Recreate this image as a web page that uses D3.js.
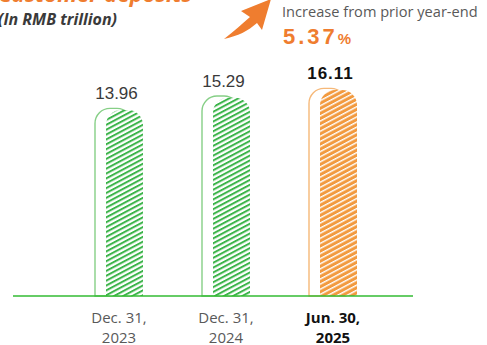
<!DOCTYPE html>
<html><head><meta charset="utf-8">
<script src="https://cdn.jsdelivr.net/npm/d3@7"></script>
<style>
html,body{margin:0;padding:0;background:#fff;overflow:hidden;}
svg{display:block;}
</style></head>
<body>
<svg id="chart" width="487" height="345"></svg>
<script>
const categories = ["Dec. 31, 2023", "Dec. 31, 2024", "Jun. 30, 2025"];
const labelLine1 = ["Dec. 31,", "Dec. 31,", "Jun. 30,"];
const labelLine2 = ["2023", "2024", "2025"];
const values = [13.96, 15.29, 16.11];
const valueLabels = ["13.96", "15.29", "16.11"];
const highlight = [false, false, true];
const title = "Customer deposits";
const unit = "(In RMB trillion)";
const increaseText = "Increase from prior year-end";
const increaseValue = "5.37";

const svg = d3.select("#chart");
const baseY = 296;

const x = d3.scalePoint().domain(categories).range([119, 333]);
const y = d3.scaleLinear().domain([-6.04, 16.11]).range([baseY, 90]);

const GREEN = "#3cb44a", GREEN_LIGHT = "#86cf86";
const ORANGE = "#f29a3f", ORANGE_LIGHT = "#f6b878";
const ORANGE_TXT = "#ef7d2f";

const defs = svg.append("defs");
const pg = defs.append("pattern").attr("id", "hatchGreen").attr("patternUnits", "userSpaceOnUse")
  .attr("width", 4.3).attr("height", 10).attr("patternTransform", "rotate(62)");
pg.append("rect").attr("width", 4.3).attr("height", 10).attr("fill", "#fff");
pg.append("rect").attr("x", 0).attr("width", 2.0).attr("height", 10).attr("fill", GREEN);
const po = defs.append("pattern").attr("id", "hatchOrange").attr("patternUnits", "userSpaceOnUse")
  .attr("width", 4.5).attr("height", 10).attr("patternTransform", "rotate(62)");
po.append("rect").attr("width", 4.5).attr("height", 10).attr("fill", ORANGE);
po.append("rect").attr("x", 0).attr("width", 1.4).attr("height", 10).attr("fill", "#fff");

function topRounded(x0, y0, w, h, r) {
  return `M${x0},${y0 + h} V${y0 + r} A${r},${r} 0 0 1 ${x0 + r},${y0} H${x0 + w - r} A${r},${r} 0 0 1 ${x0 + w},${y0 + r} V${y0 + h} Z`;
}
const bw = 37, off = 5.5, rad = 15;

const g = svg.append("g");
categories.forEach((c, i) => {
  const cx = x(c);
  const top = y(values[i]);
  g.append("path")
    .attr("d", topRounded(cx - off - bw / 2, top - 1.6, bw, baseY - top + 1.6, rad))
    .attr("fill", "none")
    .attr("stroke", highlight[i] ? ORANGE_LIGHT : GREEN_LIGHT)
    .attr("stroke-width", 1.4);
  g.append("path")
    .attr("d", topRounded(cx + off - bw / 2, top, bw, baseY - top, rad))
    .attr("fill", highlight[i] ? "url(#hatchOrange)" : "url(#hatchGreen)");
  g.append("text")
    .attr("x", cx - 2.5).attr("y", top - 11)
    .attr("text-anchor", "middle")
    .attr("font-family", "Liberation Sans, Arial, sans-serif")
    .attr("font-size", 17)
    .attr("font-weight", highlight[i] ? "bold" : "normal")
    .attr("fill", highlight[i] ? "#111" : "#3a3a3a")
    .attr("letter-spacing", highlight[i] ? 1 : 0)
    .text(valueLabels[i]);
  const t = g.append("text")
    .attr("text-anchor", "middle")
    .attr("font-family", "Open Sans, Noto Sans, sans-serif")
    .attr("font-size", 15)
    .attr("font-weight", highlight[i] ? "bold" : "normal")
    .attr("fill", highlight[i] ? "#111" : "#595959");
  t.append("tspan").attr("x", cx).attr("y", 323).text(labelLine1[i]);
  t.append("tspan").attr("x", cx).attr("y", 343).text(labelLine2[i]);
});

svg.append("line").attr("x1", 13).attr("x2", 413).attr("y1", baseY).attr("y2", baseY)
  .attr("stroke", "#33bb33").attr("stroke-width", 1.5);

svg.append("text").attr("x", 192).attr("y", 2).attr("text-anchor", "end")
  .attr("font-family", "Open Sans, Noto Sans, sans-serif").attr("font-size", 22)
  .attr("font-weight", "bold").attr("font-style", "italic").attr("fill", ORANGE_TXT)
  .text(title);
svg.append("text").attr("x", -2).attr("y", 25)
  .attr("font-family", "Open Sans, Noto Sans, sans-serif").attr("font-size", 16)
  .attr("font-weight", "bold").attr("font-style", "italic").attr("fill", "#3a3a3a")
  .text(unit);

svg.append("path")
  .attr("d", "M224,39 C234,31 242,24 250,17 L241,11 L271,-1 L262,30 L257,23 C248,31 238,36 224,39 Z")
  .attr("fill", ORANGE_TXT);

svg.append("text").attr("x", 282).attr("y", 17)
  .attr("font-family", "Open Sans, Noto Sans, sans-serif").attr("font-size", 14.6)
  .attr("fill", "#595959").text(increaseText);
const inc = svg.append("text").attr("x", 283).attr("y", 44)
  .attr("font-family", "Liberation Sans, Arial, sans-serif")
  .attr("font-weight", "bold").attr("fill", ORANGE_TXT);
inc.append("tspan").attr("font-size", 22).attr("letter-spacing", 3).text(increaseValue);
inc.append("tspan").attr("font-size", 15).attr("dx", 0).text("%");
</script>
</body></html>
